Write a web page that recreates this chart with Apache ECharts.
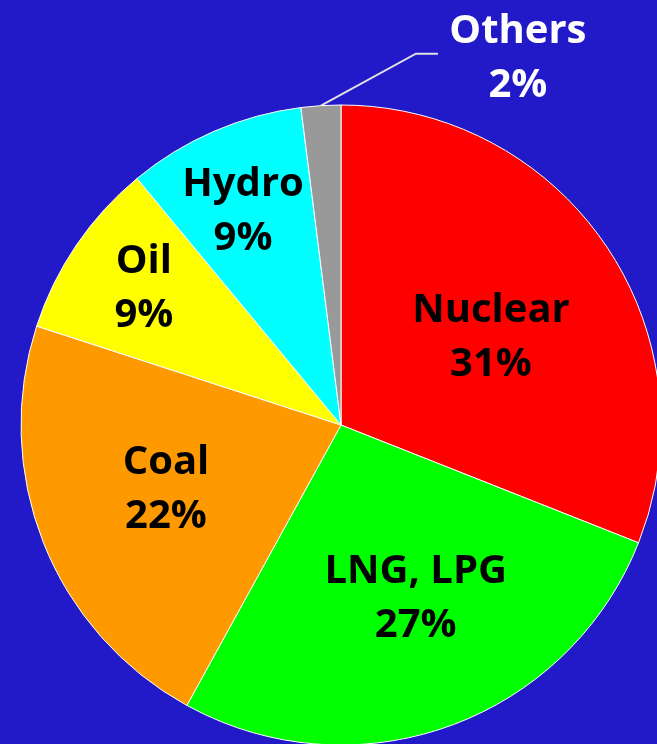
<!DOCTYPE html>
<html>
<head>
<meta charset="utf-8">
<script src="https://cdn.jsdelivr.net/npm/echarts@6/dist/echarts.min.js"></script>
<style>
html,body{margin:0;padding:0;background:#2219C8;}
#chart{width:657px;height:744px;}
</style>
</head>
<body>
<div id="chart"></div>
<script>
var categories = ['Nuclear', 'LNG, LPG', 'Coal', 'Oil', 'Hydro', 'Others'];
var shares = [31, 27, 22, 9, 9, 2];
var sliceColors = ['#FF0000', '#00FF00', '#FF9900', '#FFFF00', '#00FFFF', '#999999'];
// label nudges relative to library default label position
var labelNudge = [[-10, 14], [3, 14], [-15, -26], [-45, -13], [4, -55], [0, 0]];

var chart = echarts.init(document.getElementById('chart'), null, {renderer: 'canvas'});
var data = categories.map(function (c, i) {
  var item = {name: c, value: shares[i], itemStyle: {color: sliceColors[i]}};
  if (c === 'Others') {
    item.label = {position: 'outside', color: '#ffffff'};
    item.labelLine = {show: true, lineStyle: {color: '#e0e0e0', width: 2}};
  }
  return item;
});

chart.setOption({
  backgroundColor: '#2219C8',
  animation: false,
  series: [{
    type: 'pie',
    center: [341, 425],
    radius: 320,
    startAngle: 90,
    clockwise: true,
    avoidLabelOverlap: false,
    itemStyle: {borderColor: '#ffffff', borderWidth: 1},
    label: {
      show: true,
      position: 'inside',
      formatter: '{b}\n{c}%',
      fontFamily: 'Open Sans',
      fontWeight: 'bold',
      fontSize: 40,
      lineHeight: 54,
      color: '#000000',
      align: 'center'
    },
    labelLine: {show: false},
    labelLayout: function (p) {
      var cx = p.rect.x + p.rect.width / 2;
      var cy = p.rect.y + p.rect.height / 2;
      if (categories[p.dataIndex] === 'Others' && p.labelLinePoints) {
        var p0 = p.labelLinePoints[0];
        var p1 = [p0[0] + 95, p0[1] - 52];
        var p2 = [p1[0] + 22, p1[1]];
        return {
          x: p2[0] + 80,
          y: p2[1] + 5,
          align: 'center',
          verticalAlign: 'middle',
          labelLinePoints: [p0, p1, p2]
        };
      }
      var n = labelNudge[p.dataIndex];
      return {x: cx + n[0], y: cy + n[1], align: 'center', verticalAlign: 'middle'};
    },
    data: data
  }]
});
</script>
</body>
</html>
